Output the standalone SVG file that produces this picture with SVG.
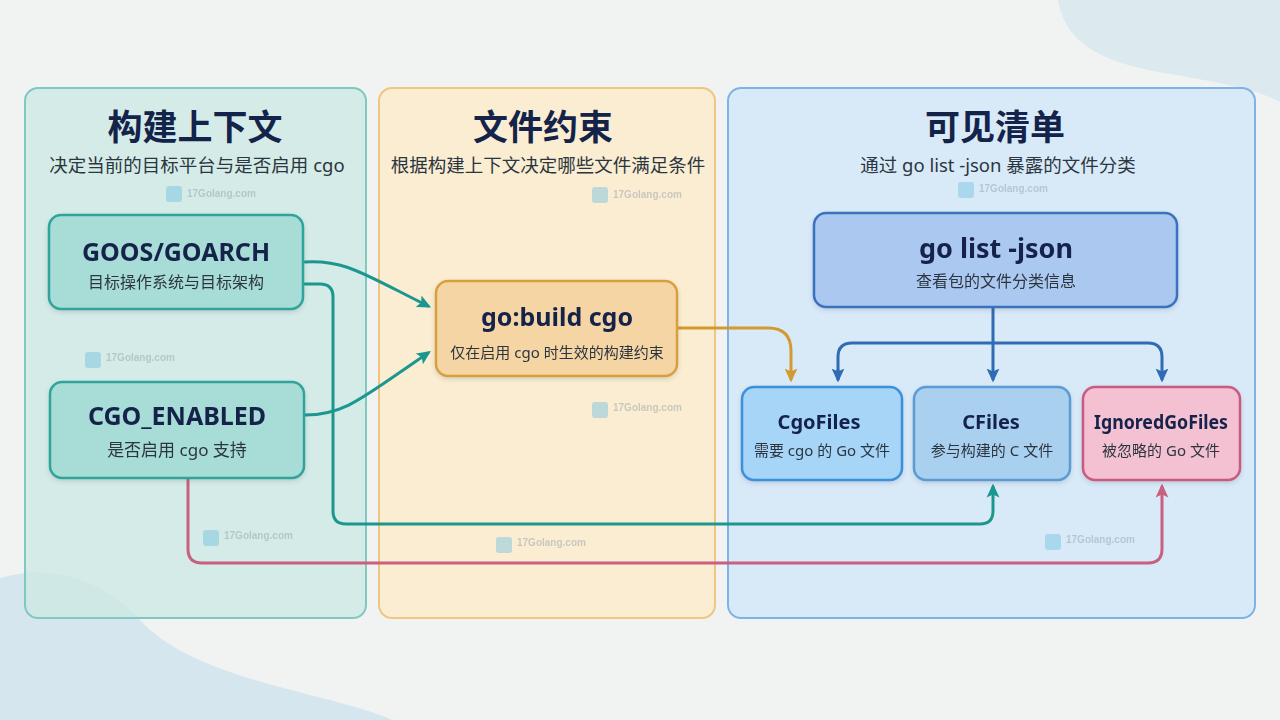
<svg xmlns="http://www.w3.org/2000/svg" width="1280" height="720" viewBox="0 0 1280 720">
<defs>
<style>
.ptitle{font-family:"Noto Sans CJK SC","Noto Sans",sans-serif;font-weight:700;font-size:35px;fill:#13234a;text-anchor:middle}
.psub{font-family:"Noto Sans","Noto Sans CJK SC",sans-serif;font-size:18.5px;fill:#2c3640;text-anchor:middle}
.ntitle{font-family:"Noto Sans","Noto Sans CJK SC",sans-serif;font-weight:700;font-size:25px;fill:#13234a;text-anchor:middle}
.nsub{font-family:"Noto Sans","Noto Sans CJK SC",sans-serif;font-size:16px;fill:#2c3640;text-anchor:middle}
.small .ntitle{font-size:20px}
.small .nsub{font-size:15px}
.wm text{font-family:"Liberation Sans",Arial,sans-serif;font-weight:700;font-size:10px;fill:#8d9ba6}
.wm rect{fill:#74c0e2}
.wm{opacity:0.45}
.conn{fill:none;stroke-width:3;stroke-linecap:round;stroke-linejoin:round}
.teal{stroke:#1c978f}
.pink{stroke:#c9607f}
.gold{stroke:#d29a2f}
.blue{stroke:#2f6cb4}
</style>
<filter id="sh" x="-10%" y="-10%" width="120%" height="130%">
<feDropShadow dx="0" dy="2" stdDeviation="2" flood-color="#34495e" flood-opacity="0.18"/>
</filter>
<marker id="aTeal" viewBox="0 0 12 12" refX="9" refY="6" markerWidth="14" markerHeight="14" markerUnits="userSpaceOnUse" orient="auto"><path d="M0,0.5 L12,6 L0,11.5 L2.5,6 Z" fill="#1c978f"/></marker>
<marker id="aPink" viewBox="0 0 12 12" refX="9" refY="6" markerWidth="14" markerHeight="14" markerUnits="userSpaceOnUse" orient="auto"><path d="M0,0.5 L12,6 L0,11.5 L2.5,6 Z" fill="#c9607f"/></marker>
<marker id="aGold" viewBox="0 0 12 12" refX="9" refY="6" markerWidth="14" markerHeight="14" markerUnits="userSpaceOnUse" orient="auto"><path d="M0,0.5 L12,6 L0,11.5 L2.5,6 Z" fill="#d29a2f"/></marker>
<marker id="aBlue" viewBox="0 0 12 12" refX="9" refY="6" markerWidth="14" markerHeight="14" markerUnits="userSpaceOnUse" orient="auto"><path d="M0,0.5 L12,6 L0,11.5 L2.5,6 Z" fill="#2f6cb4"/></marker>
</defs>

<!-- background -->
<rect width="1280" height="720" fill="#f1f3f3"/>
<path d="M1058,0 C1066,48 1110,64 1170,74 C1230,84 1262,92 1280,102 L1280,0 Z" fill="#dce9ef"/>
<path d="M0,578 C45,564 100,576 140,620 C180,664 260,682 330,700 C360,708 380,714 392,720 L0,720 Z" fill="#d5e6ee"/>

<!-- panels -->
<g id="panel-context">
<rect x="25" y="88" width="341" height="530" rx="13" fill="#cde9e4" fill-opacity="0.8" stroke="#7fc9bf" stroke-width="2"/>
<text class="ptitle" x="195" y="140">构建上下文</text>
<text class="psub" x="197" y="172">决定当前的目标平台与是否启用 cgo</text>
</g>
<g id="panel-constraint">
<rect x="379" y="88" width="336" height="530" rx="13" fill="#fcebc9" fill-opacity="0.8" stroke="#eec682" stroke-width="2"/>
<text class="ptitle" x="543" y="140">文件约束</text>
<text class="psub" x="548" y="172">根据构建上下文决定哪些文件满足条件</text>
</g>
<g id="panel-list">
<rect x="728" y="88" width="527" height="530" rx="13" fill="#d4e6f8" fill-opacity="0.85" stroke="#80b3e5" stroke-width="2"/>
<text class="ptitle" x="995" y="140">可见清单</text>
<text class="psub" x="998" y="172">通过 go list -json 暴露的文件分类</text>
</g>

<!-- watermarks -->
<g class="wm"><rect x="166" y="186" width="16" height="16" rx="3"/><text x="187" y="197">17Golang.com</text></g>
<g class="wm"><rect x="592" y="187" width="16" height="16" rx="3"/><text x="613" y="198">17Golang.com</text></g>
<g class="wm"><rect x="958" y="182" width="16" height="16" rx="3"/><text x="979" y="192">17Golang.com</text></g>
<g class="wm"><rect x="85" y="352" width="16" height="16" rx="3"/><text x="106" y="361">17Golang.com</text></g>
<g class="wm"><rect x="592" y="402" width="16" height="16" rx="3"/><text x="613" y="411">17Golang.com</text></g>
<g class="wm"><rect x="203" y="530" width="16" height="16" rx="3"/><text x="224" y="539">17Golang.com</text></g>
<g class="wm"><rect x="496" y="537" width="16" height="16" rx="3"/><text x="517" y="546">17Golang.com</text></g>
<g class="wm"><rect x="1045" y="534" width="16" height="16" rx="3"/><text x="1066" y="543">17Golang.com</text></g>

<!-- connectors -->
<g id="connectors">
<path class="conn teal" d="M305,262 C345,260 360,272 428,306" marker-end="url(#aTeal)"/>
<path class="conn teal" d="M305,415 C345,415 362,398 428,353" marker-end="url(#aTeal)"/>
<path class="conn teal" d="M305,284 L320,284 Q333,284 333,297 L333,511 Q333,524 346,524 L980,524 Q993,524 993,511 L993,487" marker-end="url(#aTeal)"/>
<path class="conn pink" d="M188,478 L188,549 Q188,563 202,563 L1148,563 Q1162,563 1162,549 L1162,487" marker-end="url(#aPink)"/>
<path class="conn gold" d="M677,328 L768,328 Q791,328 791,351 L791,379" marker-end="url(#aGold)"/>
<path class="conn blue" d="M993,307 L993,379" marker-end="url(#aBlue)"/>
<path class="conn blue" d="M838,379 L838,357 Q838,343 852,343 L1148,343 Q1162,343 1162,357 L1162,379" marker-end="url(#aBlue)"/>
<path class="conn blue" d="M838,370 L838,379" marker-end="url(#aBlue)"/>
</g>

<!-- nodes -->
<g id="node-goos" filter="url(#sh)">
<rect x="49" y="215" width="254" height="94" rx="12" fill="#a8dcd6" stroke="#2ea49a" stroke-width="2.5"/>
<text class="ntitle" x="176" y="261">GOOS/GOARCH</text>
<text class="nsub" x="176" y="288">目标操作系统与目标架构</text>
</g>
<g id="node-cgo-enabled" filter="url(#sh)">
<rect x="50" y="382" width="254" height="96" rx="12" fill="#a8dcd6" stroke="#2ea49a" stroke-width="2.5"/>
<text class="ntitle" x="177" y="425">CGO_ENABLED</text>
<text class="nsub" x="177" y="456" style="font-size:17px">是否启用 cgo 支持</text>
</g>
<g id="node-gobuild" filter="url(#sh)">
<rect x="436" y="281" width="241" height="95" rx="12" fill="#f6d5a4" stroke="#d8a03e" stroke-width="2.5"/>
<text class="ntitle" x="557" y="326">go:build cgo</text>
<text class="nsub" x="557" y="358" style="font-size:15px">仅在启用 cgo 时生效的构建约束</text>
</g>
<g id="node-golist" filter="url(#sh)">
<rect x="814" y="213" width="363" height="94" rx="12" fill="#abc9f0" stroke="#3a72bd" stroke-width="2.5"/>
<text class="ntitle" x="996" y="258" style="font-size:27px">go list -json</text>
<text class="nsub" x="996" y="287">查看包的文件分类信息</text>
</g>
<g id="node-cgofiles" class="small" filter="url(#sh)">
<rect x="742" y="387" width="160" height="93" rx="12" fill="#a6d5f7" stroke="#3b90d9" stroke-width="2.5"/>
<text class="ntitle" x="819" y="429">CgoFiles</text>
<text class="nsub" x="822" y="456">需要 cgo 的 Go 文件</text>
</g>
<g id="node-cfiles" class="small" filter="url(#sh)">
<rect x="914" y="387" width="156" height="93" rx="12" fill="#aad0ef" stroke="#5b9bd2" stroke-width="2.5"/>
<text class="ntitle" x="991" y="429">CFiles</text>
<text class="nsub" x="992" y="456">参与构建的 C 文件</text>
</g>
<g id="node-ignored" class="small" filter="url(#sh)">
<rect x="1083" y="387" width="157" height="93" rx="12" fill="#f3c1d1" stroke="#c95a80" stroke-width="2.5"/>
<text class="ntitle" x="1161" y="429" textLength="134" lengthAdjust="spacingAndGlyphs">IgnoredGoFiles</text>
<text class="nsub" x="1161" y="456">被忽略的 Go 文件</text>
</g>
</svg>
